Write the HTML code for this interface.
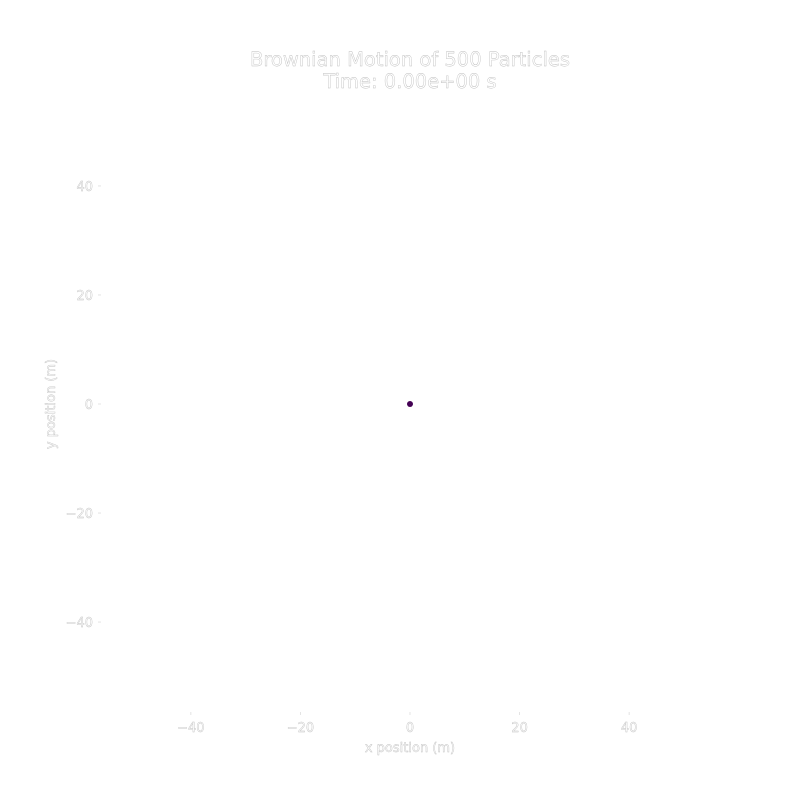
<!DOCTYPE html>
<html><head><meta charset="utf-8"><style>
html,body{margin:0;padding:0;background:#fff;}
svg text{font-family:"DejaVu Sans","Liberation Sans",sans-serif;fill:#fff;stroke:#bdbdbd;stroke-width:0.4px;}
</style></head><body>
<svg id="chart" width="800" height="800" viewBox="0 0 800 800" xmlns="http://www.w3.org/2000/svg">
<rect width="800" height="800" fill="#fff"/>
<text x="410" y="66" font-size="19.5" text-anchor="middle">Brownian Motion of 500 Particles</text>
<text x="410" y="88" font-size="19.5" text-anchor="middle">Time: 0.00e+00 s</text>
<g id="axes"></g>
<g id="marks"></g>
<text x="410" y="752" font-size="13" text-anchor="middle">x position (m)</text>
<text transform="translate(55,404) rotate(-90)" font-size="13" text-anchor="middle">y position (m)</text>
</svg>
<script>
const xTicks=[-40,-20,0,20,40];
const yTicks=[-40,-20,0,20,40];
const xTickLabels=["\u221240","\u221220","0","20","40"];
const yTickLabels=["\u221240","\u221220","0","20","40"];
const particleX=[0];
const particleY=[0];
const xMin=-56.4,xMax=56.4,yMin=-56.5,yMax=56.5;
const L=101,R=719,T=96,B=712;
function sx(v){return L+(v-xMin)/(xMax-xMin)*(R-L);}
function sy(v){return B-(v-yMin)/(yMax-yMin)*(B-T);}
const NS="http://www.w3.org/2000/svg";
const axes=document.getElementById('axes');
const marks=document.getElementById('marks');
xTicks.forEach((v,i)=>{
  const t=document.createElementNS(NS,'text');
  t.setAttribute('x',sx(v));t.setAttribute('y',B+20);
  t.setAttribute('font-size','13');t.setAttribute('text-anchor','middle');
  t.textContent=xTickLabels[i];
  
  
  axes.appendChild(t);
  const k=document.createElementNS(NS,'line');
  k.setAttribute('x1',sx(v));k.setAttribute('x2',sx(v));k.setAttribute('y1',B);k.setAttribute('y2',B+3);
  k.setAttribute('stroke','#ddd');k.setAttribute('stroke-width','0.8');
  
  
  axes.appendChild(k);
});
yTicks.forEach((v,i)=>{
  const t=document.createElementNS(NS,'text');
  t.setAttribute('x',L-8);t.setAttribute('y',sy(v)+5);
  t.setAttribute('font-size','13');t.setAttribute('text-anchor','end');
  t.textContent=yTickLabels[i];
  
  
  axes.appendChild(t);
  const k=document.createElementNS(NS,'line');
  k.setAttribute('x1',L-3);k.setAttribute('x2',L);k.setAttribute('y1',sy(v));k.setAttribute('y2',sy(v));
  k.setAttribute('stroke','#ddd');k.setAttribute('stroke-width','0.8');
  
  
  axes.appendChild(k);
});
particleX.forEach((v,i)=>{
  const c=document.createElementNS(NS,'circle');
  c.setAttribute('cx',sx(v));c.setAttribute('cy',sy(particleY[i]));
  c.setAttribute('r','3');c.setAttribute('fill','#440154');
  
  
  marks.appendChild(c);
});
</script>
</body></html>
